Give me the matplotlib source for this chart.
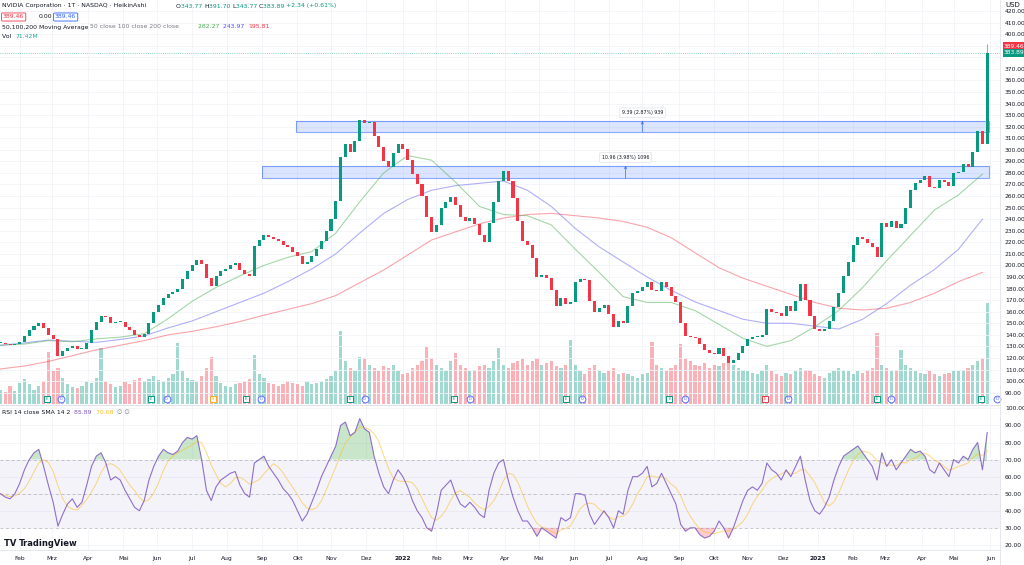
import matplotlib
matplotlib.use("Agg")
import matplotlib.pyplot as plt
import matplotlib.transforms as mtransforms
from matplotlib.patches import Rectangle
from matplotlib.lines import Line2D
import numpy as np
import pandas as pd

plt.rcParams['font.family'] = ['DejaVu Sans']

# one candle every 3 trading days, first one on 14 Jan 2021
start = '2021-01-14'
step = 3

closes = [
    133, 132, 131, 132, 134, 139, 144, 148, 150, 146,
    140, 136, 122, 126, 129, 130, 128, 128, 133, 144,
    151, 156, 155, 150, 151, 151, 147, 144, 140, 138,
    141, 150, 160, 166, 172, 175, 177, 180, 188, 195,
    200, 205, 201, 189, 182, 191, 195, 197, 200, 202,
    196, 193, 191, 217, 222, 226, 225, 223, 221, 218,
    216, 212, 208, 201, 203, 208, 214, 221, 230, 240,
    256, 294, 305, 298, 308, 326, 323, 324, 312, 302,
    290, 285, 297, 305, 301, 291, 279, 270, 260, 242,
    229, 235, 250, 255, 259, 252, 242, 238, 241, 236,
    226, 220, 237, 255, 273, 282, 273, 258, 238, 221,
    218, 206, 190, 192, 189, 179, 165, 172, 167, 168,
    186, 188, 187, 169, 160, 163, 166, 158, 147, 152,
    150, 165, 176, 178, 181, 186, 179, 178, 186, 181,
    174, 168, 150, 139, 138, 137, 132, 127, 124, 123,
    129, 122, 116, 118, 124, 130, 136, 138, 138, 140,
    162, 160, 159, 156, 165, 161, 169, 184, 170, 156,
    145, 143, 145, 152, 164, 176, 191, 203, 218, 225,
    223, 219, 216, 207, 237, 233, 238, 232, 236, 250,
    265, 271, 274, 277, 268, 267, 274, 272, 269, 280,
    281, 288, 285, 298, 316, 305, 383.89,
]
last_high = 391.70

# volume in millions
volumes = [
    22, 18, 28, 20, 32, 38, 30, 22, 28, 35,
    80, 50, 55, 40, 30, 26, 24, 28, 35, 32,
    40, 85, 35, 30, 26, 28, 33, 30, 36, 40,
    35, 38, 42, 36, 33, 40, 45, 93, 50, 40,
    36, 34, 42, 55, 72, 42, 32, 28, 26, 30,
    32, 35, 38, 75, 45, 40, 32, 30, 28, 30,
    35, 32, 30, 28, 35, 30, 32, 35, 38, 42,
    50, 112, 65, 55, 50, 72, 70, 60, 55, 50,
    58, 55, 60, 50, 45, 48, 55, 60, 65, 87,
    70, 60, 55, 50, 65, 78, 60, 55, 50, 52,
    58, 60, 55, 65, 85, 60, 55, 62, 65, 70,
    60, 65, 70, 60, 62, 65, 58, 55, 60, 97,
    60, 50, 45, 55, 60, 52, 48, 50, 55, 45,
    48, 45, 42, 40, 45, 48, 95, 60, 55, 50,
    55, 60, 92, 70, 65, 60, 58, 62, 55, 60,
    58, 62, 65, 60, 55, 52, 50, 48, 45, 50,
    60, 50, 45, 42, 48, 45, 50, 55, 52, 50,
    45, 42, 40, 48, 50, 55, 52, 50, 45, 50,
    48, 52, 55, 108, 60, 55, 50, 52, 82, 60,
    55, 50, 48, 45, 50, 45, 42, 45, 48, 50,
    50, 52, 55, 60, 65, 70, 154,
]

rsi = [
    50, 48, 47, 50, 56, 64, 70, 74, 76, 66,
    55, 45, 31, 38, 44, 47, 42, 45, 55, 66,
    72, 74, 68, 58, 60, 58, 52, 47, 42, 40,
    46, 58, 66, 72, 76, 74, 73, 75, 80, 83,
    82, 84, 70, 52, 46, 54, 58, 60, 62, 63,
    55, 50, 48, 68, 70, 72, 66, 62, 58, 53,
    50, 46, 40, 34, 38, 45, 52, 60, 66, 72,
    78, 90, 92, 84, 86, 94, 88, 86, 72, 62,
    54, 50, 58, 64, 60, 54, 46, 40, 36, 30,
    28, 38, 52, 55, 58, 50, 44, 42, 45, 42,
    38, 36, 52, 62, 68, 70, 58, 48, 40, 34,
    34, 30, 25, 30, 28, 26, 24, 36, 34, 36,
    50, 50, 49, 38, 32, 36, 40, 36, 30, 40,
    38, 52, 60, 60, 62, 66, 54, 56, 62, 56,
    50, 44, 32, 28, 30, 30, 26, 24, 25, 28,
    34, 30, 24, 30, 38, 46, 52, 54, 52, 56,
    68, 64, 62, 58, 64, 60, 66, 72, 58, 46,
    40, 38, 42, 48, 58, 66, 72, 74, 76, 78,
    74, 70, 66, 58, 74, 66, 70, 64, 68, 72,
    76, 74, 75, 72, 64, 62, 68, 64, 60, 70,
    68, 72, 70, 76, 80, 64, 85.89,
]

# moving averages read every 5 candles
ma_every = 5
ma50 = [131, 132, 135, 134, 136.5, 138, 141, 154, 169, 181,
        191, 200, 207, 212, 228, 255, 280, 295, 291, 272,
        251, 244, 243, 235, 214, 194, 173, 168, 168, 161,
        149, 137, 130, 135, 147, 161, 181, 204, 226, 248,
        261, 279]
ma100 = [131, 133, 135.5, 134.5, 133.5, 136, 139, 146, 152, 160,
         168, 176, 186, 197, 210, 228, 245, 257, 265, 269,
         271, 273, 265, 251, 232, 216, 203, 190, 178.5, 168.5,
         161, 153.5, 150, 150, 147.5, 145, 153.5, 167, 183, 196.5,
         214, 240]
ma200 = [110.5, 113, 117, 122, 127, 131, 135, 140, 143, 147,
         151.5, 157, 162, 167, 174, 185, 196, 209, 222, 229,
         236, 241, 244, 245, 243, 241, 238, 233, 224, 211,
         198, 189, 182, 175, 168, 163, 161.5, 163, 168, 176,
         186, 194]

earnings_beat = ['2021-02-24', '2021-05-26', '2021-08-18', '2021-11-17', '2022-02-16',
                 '2022-05-25', '2022-08-24', '2023-02-22', '2023-05-24']
earnings_miss = ['2022-11-16']
dividends = ['2021-03-09', '2021-06-09', '2021-08-31', '2021-11-30', '2022-03-02',
             '2022-06-08', '2022-09-07', '2022-12-06', '2023-03-07', '2023-06-07']
splits = ['2021-07-20']

zone_hi = (315.6, 324.99, '2021-09-30', '2023-05-31', '9.39 (2.87%) 939')
zone_lo = (275.4, 286.36, '2021-09-01', '2023-05-31', '10.96 (3.98%) 1096')

months_de = {2: 'Feb', 3: 'Mrz', 4: 'Apr', 5: 'Mai', 6: 'Jun', 7: 'Jul', 8: 'Aug',
             9: 'Sep', 10: 'Okt', 11: 'Nov', 12: 'Dez'}

GREEN = '#089981'
RED = '#f23645'
TXT = '#131722'
GREY = '#787b86'
GRID = '#f2f4f8'

days = pd.bdate_range(start, periods=700)
def pos(d):
    return days.searchsorted(pd.Timestamp(d))

n = len(closes)
x = np.arange(n) * step
c = np.array(closes, dtype=float)
o = np.r_[c[0], c[:-1]]
up = c >= o
col = np.where(up, GREEN, RED)

W, H = 1024, 565
fig = plt.figure(figsize=(W / 100, H / 100), dpi=100)
fig.patch.set_facecolor('white')

def box(x0, y0, x1, y1):
    return [x0 / W, 1 - y1 / H, (x1 - x0) / W, (y1 - y0) / H]

ax_vol = fig.add_axes(box(0, 0, 1000, 404))
ax = ax_vol.twinx()
ax_rsi = fig.add_axes(box(0, 405, 1000, 550))

XMIN, XMAX = -0.3, 626
for a in (ax_vol, ax, ax_rsi):
    a.set_xlim(XMIN, XMAX)
    for s in a.spines.values():
        s.set_visible(False)

# month ticks
mticks, mlabels = [], []
for m in pd.date_range('2021-02-01', '2023-06-01', freq='MS'):
    mticks.append(pos(m))
    mlabels.append(str(m.year) if m.month == 1 else months_de[m.month])

# volume
ax_vol.bar(x, volumes, width=2.0, color=col, alpha=0.38, linewidth=0, zorder=1)
ax_vol.set_ylim(0, max(volumes) * 4.0)
ax_vol.set_yticks([])
ax_vol.set_xticks(mticks)
ax_vol.tick_params(axis='x', length=0, labelbottom=False)
ax_vol.grid(axis='x', color=GRID, lw=0.6)
ax_vol.set_axisbelow(True)

# price panel
ax.set_ylim(80.2, 429.5)
pticks = np.arange(90, 421, 10)
ax.set_yticks(pticks)
ax.set_yticklabels(['' if t in (380, 390) else f'{t:.2f}' for t in pticks])
ax.tick_params(axis='y', length=0, pad=3.5, labelsize=4.3, labelcolor=TXT)
for t in pticks:
    ax.axhline(t, color=GRID, lw=0.6, zorder=0)

for lo, hi, d0, d1, lab in (zone_hi, zone_lo):
    x0, x1 = pos(d0), pos(d1)
    ax.add_patch(Rectangle((x0, lo), x1 - x0, hi - lo, facecolor='#2962ff', alpha=0.16,
                           edgecolor='none', zorder=2))
    ax.add_patch(Rectangle((x0, lo), x1 - x0, hi - lo, facecolor='none',
                           edgecolor='#2962ff', alpha=0.55, lw=0.8, zorder=2))
    xm = (x0 + x1) / 2
    ax.annotate('', xy=(xm, hi), xytext=(xm, lo),
                arrowprops=dict(arrowstyle='->', color='#2962ff', lw=0.6, alpha=0.8,
                                shrinkA=0, shrinkB=0, mutation_scale=4))
    ax.text(xm, hi + 7, lab, ha='center', va='center', fontsize=3.4, color=TXT, zorder=5,
            bbox=dict(boxstyle='round,pad=0.5,rounding_size=0.3', fc='white', ec='#e0e3eb', lw=0.5))

xm5 = np.arange(len(ma50)) * ma_every * step
ax.plot(xm5, ma200, color=RED, lw=0.8, alpha=0.45, zorder=3)
ax.plot(xm5, ma100, color='#4f4ff0', lw=0.8, alpha=0.45, zorder=3)
ax.plot(xm5, ma50, color='#4caf50', lw=0.8, alpha=0.5, zorder=3)

h = c - o
h = np.where(np.abs(h) < 0.8, np.where(up, 0.8, -0.8), h)
ax.bar(x, h, bottom=o, width=1.9, color=col, linewidth=0, zorder=4)
ax.vlines(x[-1], c[-1], last_high, color=GREEN, lw=0.7, alpha=0.6, zorder=4)

ax.axhline(c[-1], color=GREEN, lw=0.6, ls=(0, (1, 1.6)), alpha=0.6, zorder=3)

ytr = mtransforms.blended_transform_factory(ax.transAxes, ax.transData)
ax.text(1.004, 389.46, '389.46', transform=ytr, fontsize=4.3, color='white', va='center',
        ha='left', clip_on=False, zorder=6,
        bbox=dict(boxstyle='square,pad=0.25', fc=RED, ec='none'))
ax.text(1.004, 383.89, '383.89', transform=ytr, fontsize=4.3, color='white', va='center',
        ha='left', clip_on=False, zorder=6,
        bbox=dict(boxstyle='square,pad=0.25', fc=GREEN, ec='none'))

# event icons along the bottom of the price pane
etr = mtransforms.blended_transform_factory(ax.transData, ax.transAxes)
def icon(d, marker, edge, letter):
    ax.scatter(pos(d), 0.013, marker=marker, s=24, facecolor='white', edgecolor=edge,
               lw=0.7, transform=etr, clip_on=False, zorder=6)
    ax.text(pos(d), 0.013, letter, fontsize=2.8, color=edge, ha='center', va='center',
            transform=etr, clip_on=False, zorder=7)
for d in earnings_beat:
    icon(d, 's', GREEN, 'E')
for d in earnings_miss:
    icon(d, 's', RED, 'E')
for d in splits:
    icon(d, 's', '#f9a825', 'S')
for d in dividends:
    icon(d, 'o', '#5b6cf9', 'D')

# RSI panel
r = np.array(rsi, dtype=float)
r_ma = pd.Series(r).rolling(5, min_periods=1).mean()
ax_rsi.set_ylim(17, 102)
rticks = np.arange(20, 101, 10)
ax_rsi.yaxis.tick_right()
ax_rsi.set_yticks(rticks)
ax_rsi.set_yticklabels([f'{t:.2f}' for t in rticks])
ax_rsi.tick_params(axis='y', length=0, pad=3.5, labelsize=4.3, labelcolor=TXT)
ax_rsi.set_xticks(mticks)
ax_rsi.set_xticklabels(mlabels)
ax_rsi.tick_params(axis='x', length=0, pad=4, labelsize=4.3, labelcolor=TXT)
for lbl in ax_rsi.get_xticklabels():
    if lbl.get_text().isdigit():
        lbl.set_fontweight('bold')
ax_rsi.grid(axis='x', color=GRID, lw=0.6)
for t in rticks:
    ax_rsi.axhline(t, color=GRID, lw=0.6, zorder=0)
ax_rsi.axhspan(30, 70, color='#7e57c2', alpha=0.07, lw=0, zorder=0)
for lvl in (30, 50, 70):
    ax_rsi.axhline(lvl, color='#9598a1', lw=0.5, ls=(0, (4, 4)), alpha=0.7, zorder=1)
ax_rsi.fill_between(x, 70, r, where=r > 70, interpolate=True, color='#4caf50', alpha=0.3,
                    lw=0, zorder=2)
ax_rsi.fill_between(x, 30, r, where=r < 30, interpolate=True, color=RED, alpha=0.25,
                    lw=0, zorder=2)
ax_rsi.plot(x, r_ma, color='#fbc02d', lw=0.7, alpha=0.6, zorder=3)
ax_rsi.plot(x, r, color='#7e57c2', lw=0.8, alpha=0.85, zorder=4)

# pane separators
fig.add_artist(Line2D([0, 1000 / W], [1 - 405 / H] * 2, color='#e0e3eb', lw=0.8))
fig.add_artist(Line2D([0, 1000 / W], [1 - 550 / H] * 2, color='#e0e3eb', lw=0.6))
fig.add_artist(Line2D([1000 / W] * 2, [0, 1], color='#e0e3eb', lw=0.6))

renderer = fig.canvas.get_renderer()

def line(px, py, parts, fs=4.4, gap=0.0):
    # lay out coloured pieces of one legend row one after another
    xf = px / W
    for s, color, extra in parts:
        t = fig.text(xf, 1 - py / H, s, va='center', ha='left', fontsize=fs, color=color, **extra)
        bb = t.get_window_extent(renderer)
        xf += (bb.width + gap) / W

line(2, 6, [('NVIDIA Corporation · 1T · NASDAQ · HeikinAshi', TXT, {})])
line(176, 6, [('O', TXT, {}), ('343.77 ', GREEN, {}), ('H', TXT, {}), ('391.70 ', GREEN, {}),
              ('L', TXT, {}), ('343.77 ', GREEN, {}), ('C', TXT, {}), ('383.89 ', GREEN, {}),
              ('+2.34 (+0.61%)', GREEN, {})])
line(3, 17, [('389.46', RED, dict(bbox=dict(boxstyle='round,pad=0.25,rounding_size=0.2',
                                              fc='white', ec=RED, lw=0.6)))])
line(39, 17, [('0.00', TXT, {})])
line(55, 17, [('389.46', '#2962ff', dict(bbox=dict(boxstyle='round,pad=0.25,rounding_size=0.2',
                                                    fc='white', ec='#2962ff', lw=0.6)))])
line(2, 27, [('50,100,200 Moving Average ', TXT, {}), ('50 close 100 close 200 close', GREY, {})])
line(198, 27, [('282.27  ', '#4caf50', {}), ('243.97  ', '#4f4ff0', {}), ('195.81', RED, {})])
line(2, 37, [('Vol  ', TXT, {}), ('71.42M', '#26a69a', {})])
line(2, 413, [('RSI 14 close SMA 14 2  ', TXT, {}), ('85.89  ', '#7e57c2', {}),
              ('70.68  ', '#fbc02d', {}), ('∅ ∅', GREY, {})])
line(1005, 5, [('USD', TXT, {})], fs=5)
line(4, 543, [('TV ', TXT, dict(fontweight='bold')), ('TradingView', TXT, dict(fontweight='bold'))],
     fs=6)

fig.savefig('out.png', dpi=100, facecolor='white')
